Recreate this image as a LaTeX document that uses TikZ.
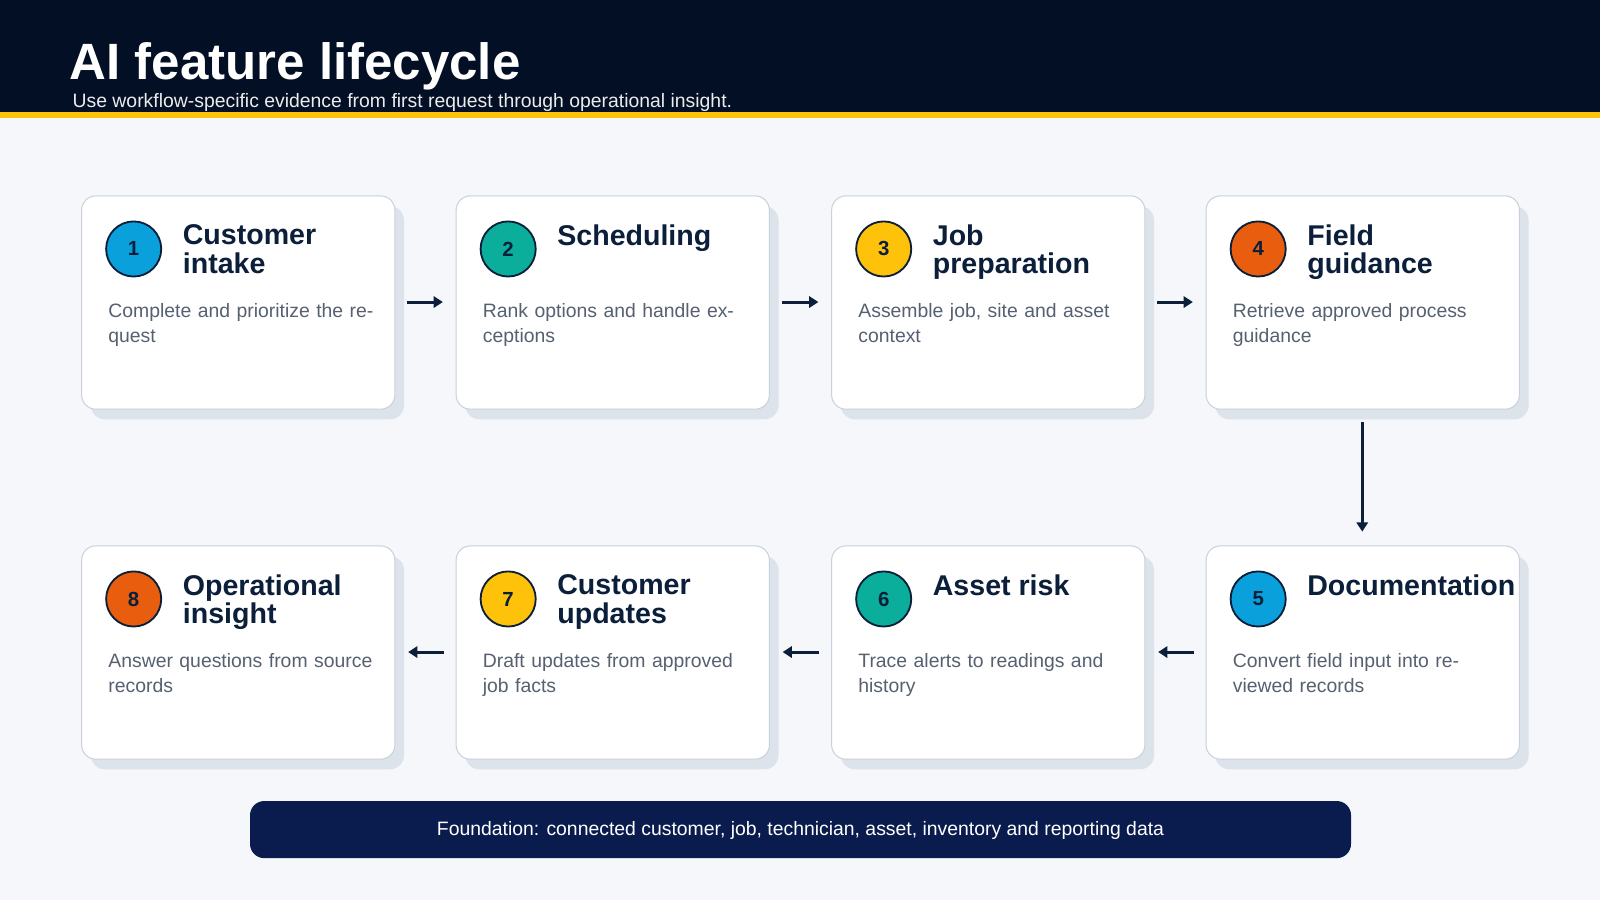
\documentclass[tikz,border=0pt]{standalone}
\usepackage{fontspec}
\setmainfont{Liberation Sans}
\usetikzlibrary{arrows.meta}
\definecolor{hdr}{HTML}{020F24}
\definecolor{navy}{HTML}{0B1F3A}
\definecolor{yel}{HTML}{FFC20A}
\definecolor{bg}{HTML}{F5F7FA}
\definecolor{shd}{HTML}{DCE3EA}
\definecolor{bord}{HTML}{C9D1DA}
\definecolor{desc}{HTML}{566070}
\definecolor{cblue}{HTML}{0AA0DC}
\definecolor{cteal}{HTML}{0AAE9A}
\definecolor{corange}{HTML}{E85D0E}
\begin{document}
\begin{tikzpicture}[x=1pt,y=-1pt,
 card/.style={draw=bord,line width=1pt,fill=white,rounded corners=14pt},
 shadow/.style={fill=shd,rounded corners=14pt},
 num/.style={circle,draw=navy,line width=1.8pt,minimum size=54pt,inner sep=0pt,font=\fontsize{20}{20}\selectfont\bfseries,text=navy},
 ttl/.style={anchor=north west,align=left,inner sep=0pt,text=navy,font=\fontsize{28}{28}\selectfont\bfseries},
 dsc/.style={anchor=north west,align=left,inner sep=0pt,text=desc,font=\fontsize{19}{25}\selectfont,text width=270pt},
 arr/.style={-{Triangle[length=9pt,width=11pt]},line width=3pt,draw=navy}]
\useasboundingbox (0,0) rectangle (1568,882);
\fill[bg] (0,0) rectangle (1568,882);
\fill[hdr] (0,0) rectangle (1568,110);
\fill[yel] (0,110) rectangle (1568,116);
\node[anchor=base west,inner sep=0pt,text=white,font=\fontsize{50}{50}\selectfont\bfseries] (title) at (68,78) {AI feature lifecycle};
\node[anchor=base west,inner sep=0pt,text=white!85!gray,font=\fontsize{19}{19}\selectfont] (sub) at (71,105) {Use workflow-specific evidence from first request through operational insight.};
\newcommand{\mycard}[7]{%
 \fill[shadow] (#1+9,#2+10) rectangle ++(307,209);
 \draw[card] (#1,#2) rectangle ++(307,209);
 \node[num,fill=#4] (n#3) at (#1+51,#2+52) {#3};
 \node[ttl] (t#3) at (#1+99,#2+28) {#5};
 \node[dsc] (d#3) at (#1+26,#2+105) {#6};
 \coordinate (L#3) at (#1,#2+104);
 \coordinate (R#3) at (#1+307,#2+104);
}
\mycard{80}{192}{1}{cblue}{Customer\\intake}{Complete and prioritize the request}{}
\mycard{447}{192}{2}{cteal}{Scheduling}{Rank options and handle exceptions}{}
\mycard{815}{192}{3}{yel}{Job\\preparation}{Assemble job, site and asset context}{}
\mycard{1182}{192}{4}{corange}{Field\\guidance}{Retrieve approved process guidance}{}
\mycard{1182}{535}{5}{cblue}{Documentation}{Convert field input into reviewed records}{}
\mycard{815}{535}{6}{cteal}{Asset risk}{Trace alerts to readings and history}{}
\mycard{447}{535}{7}{yel}{Customer\\updates}{Draft updates from approved job facts}{}
\mycard{80}{535}{8}{corange}{Operational\\insight}{Answer questions from source records}{}
\draw[arr] ([xshift=12pt]R1) -- ([xshift=-13pt]L2);
\draw[arr] ([xshift=12pt]R2) -- ([xshift=-13pt]L3);
\draw[arr] ([xshift=12pt]R3) -- ([xshift=-13pt]L4);
\coordinate (a4) at (1335,414);
\coordinate (a5) at (1335,521);
\draw[arr] (a4) -- (a5);
\draw[arr] ([xshift=-12pt]L5) -- ([xshift=13pt]R6);
\draw[arr] ([xshift=-12pt]L6) -- ([xshift=13pt]R7);
\draw[arr] ([xshift=-12pt]L7) -- ([xshift=13pt]R8);
\fill[navy!90!blue] (245,785) [rounded corners=14pt] rectangle (1324,841);
\node[text=white,font=\fontsize{19}{19}\selectfont] (foot) at (784.5,814) {Foundation: connected customer, job, technician, asset, inventory and reporting data};
\end{tikzpicture}
\end{document}
